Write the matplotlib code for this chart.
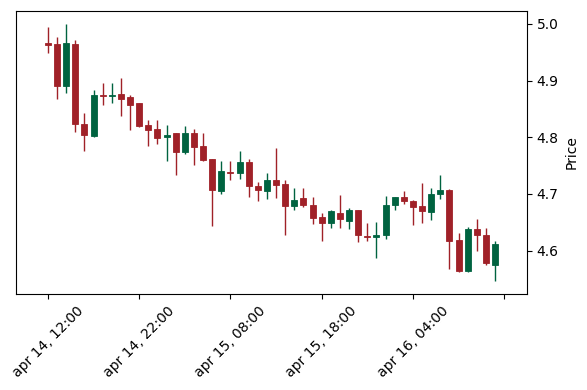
import matplotlib
matplotlib.use("Agg")
import matplotlib.pyplot as plt
import numpy as np
import pandas as pd

start_time = "2024-04-14 12:00"
n_hours = 50

opens = [4.966, 4.965, 4.890, 4.965, 4.823, 4.802, 4.874, 4.872, 4.877, 4.871,
         4.860, 4.821, 4.814, 4.801, 4.807, 4.774, 4.807, 4.785, 4.761, 4.705,
         4.739, 4.737, 4.757, 4.714, 4.705, 4.725, 4.717, 4.678, 4.692, 4.681,
         4.660, 4.648, 4.667, 4.653, 4.671, 4.626, 4.624, 4.627, 4.680, 4.694,
         4.688, 4.678, 4.668, 4.700, 4.707, 4.619, 4.564, 4.638, 4.628, 4.574]
highs = [4.994, 4.977, 5.000, 4.971, 4.843, 4.883, 4.896, 4.895, 4.904, 4.875,
         4.861, 4.831, 4.831, 4.822, 4.808, 4.819, 4.814, 4.808, 4.762, 4.758,
         4.758, 4.776, 4.761, 4.721, 4.737, 4.781, 4.724, 4.711, 4.711, 4.694,
         4.666, 4.672, 4.698, 4.675, 4.672, 4.649, 4.650, 4.697, 4.695, 4.705,
         4.690, 4.720, 4.710, 4.734, 4.709, 4.631, 4.641, 4.656, 4.640, 4.617]
lows = [4.949, 4.868, 4.878, 4.810, 4.775, 4.801, 4.857, 4.861, 4.838, 4.812,
        4.818, 4.785, 4.788, 4.758, 4.734, 4.770, 4.751, 4.758, 4.643, 4.700,
        4.724, 4.727, 4.695, 4.688, 4.691, 4.693, 4.628, 4.671, 4.677, 4.647,
        4.616, 4.640, 4.640, 4.638, 4.615, 4.616, 4.587, 4.621, 4.672, 4.683,
        4.645, 4.649, 4.654, 4.691, 4.568, 4.563, 4.563, 4.599, 4.574, 4.546]
closes = [4.963, 4.890, 4.967, 4.823, 4.804, 4.874, 4.872, 4.875, 4.868, 4.857,
          4.819, 4.812, 4.798, 4.804, 4.774, 4.807, 4.783, 4.759, 4.706, 4.740,
          4.737, 4.757, 4.714, 4.707, 4.725, 4.715, 4.678, 4.690, 4.680, 4.658,
          4.648, 4.669, 4.655, 4.671, 4.627, 4.624, 4.628, 4.681, 4.694, 4.687,
          4.677, 4.670, 4.699, 4.707, 4.617, 4.564, 4.638, 4.627, 4.578, 4.611]

up_color = "#006340"
down_color = "#A02128"

dates = pd.date_range(start_time, periods=n_hours, freq="h")
x = np.arange(n_hours)
o = np.array(opens); h = np.array(highs); l = np.array(lows); c = np.array(closes)
colors = [up_color if cc >= oo else down_color for oo, cc in zip(o, c)]

fig = plt.figure(figsize=(5.87, 3.90), dpi=100)
ax = fig.add_axes([16/587, 1 - 294/390, (527-16)/587, (294-11)/390])

ax.vlines(x, l, h, colors=colors, linewidth=1.0, zorder=2)
body = c - o
body = np.where(np.abs(body) < 0.0015, np.sign(body + 1e-9) * 0.0015, body)
ax.bar(x, body, bottom=o, width=0.66, color=colors, edgecolor=colors,
       linewidth=0.6, zorder=3)

ax.set_xlim(-3.5, n_hours + 2.5)
rng = h.max() - l.min()
ax.set_ylim(l.min() - 0.05 * rng, h.max() + 0.05 * rng)

ticks = np.arange(0, n_hours + 1, 10)
labels = [dates[t].strftime("%b %d, %H:%M").lower() if t < n_hours else "" for t in ticks]
ax.set_xticks(ticks)
ax.set_xticklabels(labels, rotation=45, ha="center")

ax.yaxis.tick_right()
ax.yaxis.set_label_position("right")
ax.set_yticks([4.6, 4.7, 4.8, 4.9, 5.0])
ax.set_ylabel("Price")

fig.savefig("out.png", dpi=100)
